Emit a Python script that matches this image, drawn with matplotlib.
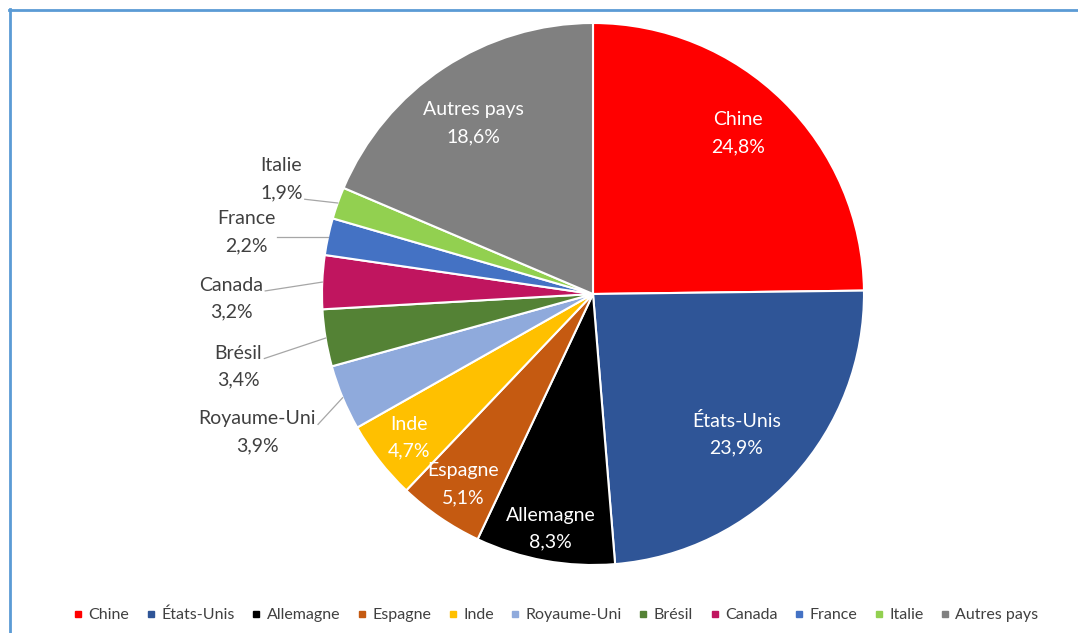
import matplotlib.pyplot as plt
import numpy as np
from matplotlib.lines import Line2D

# parts de marché par pays (%)
pays = ["Chine", "États-Unis", "Allemagne", "Espagne", "Inde", "Royaume-Uni",
        "Brésil", "Canada", "France", "Italie", "Autres pays"]
parts = [24.8, 23.9, 8.3, 5.1, 4.7, 3.9, 3.4, 3.2, 2.2, 1.9, 18.6]
couleurs = ["#FF0000", "#2F5597", "#000000", "#C55A11", "#FFC000", "#8FAADC",
            "#548235", "#C0155F", "#4472C4", "#92D050", "#808080"]

# placement des étiquettes : (distance / rayon, décalage angulaire en degrés, dedans?)
place = [(0.80, 2.6, True), (0.74, -2, True), (0.88, 0, True), (0.85, 0, True),
         (0.86, 0, True), (1.34, -0.1, False), (1.335, 2.2, False),
         (1.335, 3.3, False), (1.30, 2.1, False), (1.225, -0.6, False),
         (0.77, 1.5, True)]

plt.rcParams['font.family'] = ['Lato', 'DejaVu Sans']

W, H = 1078, 633
fig = plt.figure(figsize=(W / 100, H / 100), dpi=100)
ax = fig.add_axes([0, 0, 1, 1])

cx, cy, R = 593, H - 294, 271
wedges, _ = ax.pie(parts, colors=couleurs, startangle=90, counterclock=False,
                   center=(cx, cy), radius=R, frame=True,
                   wedgeprops=dict(edgecolor='white', linewidth=1.5))
ax.set_xlim(0, W)
ax.set_ylim(0, H)
ax.set_aspect('equal')
ax.axis('off')

fig.canvas.draw()
rend = fig.canvas.get_renderer()
inv = ax.transData.inverted()

for w, nom, v, (d, dt, dedans) in zip(wedges, pays, parts, place):
    mid = np.deg2rad((w.theta1 + w.theta2) / 2 + dt)
    tx, ty = cx + d * R * np.cos(mid), cy + d * R * np.sin(mid)
    txt = nom + "\n" + f"{v:.1f}".replace('.', ',') + "%"
    t = ax.text(tx, ty, txt, ha='center', va='center', fontsize=14,
                linespacing=1.7, color='white' if dedans else '#404040')
    if not dedans:
        # trait de rappel entre le bord du secteur et l'étiquette
        bb = t.get_window_extent(rend)
        (x0, y0), (x1, y1) = inv.transform([[bb.x0, bb.y0], [bb.x1, bb.y1]])
        amid = np.deg2rad((w.theta1 + w.theta2) / 2)
        ex, ey = cx + R * np.cos(amid), cy + R * np.sin(amid)
        ly = np.clip(ey, ty - 20, ty + 8)
        ax.plot([ex, x1 + 2], [ey, ly], color='#A6A6A6', lw=0.9)

# cadre
fig.add_artist(Line2D([10 / W, 10 / W], [0, 1 - 9 / H], color='#5B9BD5', lw=2,
                      transform=fig.transFigure))
fig.add_artist(Line2D([9 / W, 1], [1 - 10 / H, 1 - 10 / H], color='#5B9BD5', lw=2,
                      transform=fig.transFigure))

handles = [Line2D([], [], marker='s', ls='none', markersize=5, color=c) for c in couleurs]
fig.legend(handles, pays, loc='center', bbox_to_anchor=(556 / W, 1 - 615 / H),
           ncol=len(pays), frameon=False, fontsize=11.5, handlelength=0.6,
           handletextpad=0.35, columnspacing=1.05, labelcolor='#404040')

fig.savefig('out.png', dpi=100)
